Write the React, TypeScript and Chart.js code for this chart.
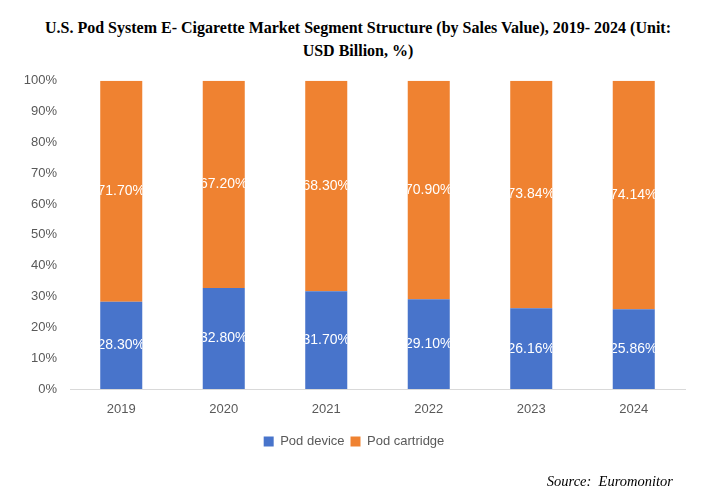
import React, { useEffect, useRef } from 'react';
import { Chart, registerables } from 'chart.js';

Chart.register(...registerables);

const years = ['2019', '2020', '2021', '2022', '2023', '2024'];
const podDevice = [28.3, 32.8, 31.7, 29.1, 26.16, 25.86];
const podCartridge = [71.7, 67.2, 68.3, 70.9, 73.84, 74.14];
const yTicks = [0, 10, 20, 30, 40, 50, 60, 70, 80, 90, 100];

const blue = '#4874CB';
const orange = '#EF8231';
const sans = '"Liberation Sans", Arial, sans-serif';
const serif = '"Liberation Serif", "Times New Roman", serif';

// white value labels, clipped to their own bar like the source image
const barLabels = {
  id: 'barLabels',
  afterDatasetsDraw(chart: any) {
    const ctx = chart.ctx;
    chart.data.datasets.forEach((ds: any, di: number) => {
      const meta = chart.getDatasetMeta(di);
      meta.data.forEach((bar: any, i: number) => {
        const { x, y, base, width } = bar.getProps(['x', 'y', 'base', 'width'], true);
        const top = Math.min(y, base);
        const h = Math.abs(base - y);
        ctx.save();
        ctx.beginPath();
        ctx.rect(x - width / 2, top, width, h);
        ctx.clip();
        ctx.fillStyle = '#FFFFFF';
        ctx.font = `14px ${sans}`;
        ctx.textAlign = 'center';
        ctx.textBaseline = 'middle';
        ctx.fillText(ds.data[i].toFixed(2) + '%', x, top + h / 2);
        ctx.restore();
      });
    });
  },
};

const App = () => {
  const chartRef = useRef<HTMLCanvasElement>(null);
  const chartInstance = useRef<Chart | null>(null);

  useEffect(() => {
    document.body.style.margin = '0';
    if (!chartRef.current) return;
    const ctx = chartRef.current.getContext('2d');
    if (!ctx) return;

    if (chartInstance.current) {
      chartInstance.current.destroy();
    }

    chartInstance.current = new Chart(ctx, {
      type: 'bar',
      data: {
        labels: years,
        datasets: [
          {
            label: 'Pod device',
            data: podDevice,
            backgroundColor: blue,
            borderWidth: 0,
            categoryPercentage: 1,
            barPercentage: 0.41,
          },
          {
            label: 'Pod cartridge',
            data: podCartridge,
            backgroundColor: orange,
            borderWidth: 0,
            categoryPercentage: 1,
            barPercentage: 0.41,
          },
        ],
      },
      options: {
        animation: false,
        responsive: false,
        maintainAspectRatio: false,
        layout: { padding: { top: 12, left: 23, right: 23, bottom: 21 } },
        plugins: {
          legend: {
            position: 'bottom',
            labels: {
              boxWidth: 10,
              boxHeight: 10,
              padding: 6,
              color: '#595959',
              font: { size: 13, family: sans },
            },
          },
          tooltip: { enabled: false },
        },
        scales: {
          x: {
            stacked: true,
            grid: { display: false, drawTicks: false },
            border: { display: true, color: '#D9D9D9', width: 1 },
            ticks: { color: '#595959', padding: 13, font: { size: 13, family: sans } },
            afterFit: (scale: any) => {
              scale.height = 40;
            },
          },
          y: {
            stacked: true,
            min: 0,
            max: 100,
            grid: { display: false, drawTicks: false },
            border: { display: false },
            afterBuildTicks: (scale: any) => {
              scale.ticks = yTicks.map((v) => ({ value: v }));
            },
            ticks: {
              color: '#595959',
              padding: 13,
              font: { size: 13, family: sans },
              callback: (v: any) => v + '%',
            },
            afterFit: (scale: any) => {
              scale.width = 47;
            },
          },
        },
      },
      plugins: [barLabels],
    });

    return () => {
      if (chartInstance.current) {
        chartInstance.current.destroy();
        chartInstance.current = null;
      }
    };
  }, []);

  return (
    <div style={{ position: 'relative', width: 708, height: 496, background: '#fff', overflow: 'hidden' }}>
      <div
        style={{
          position: 'absolute',
          top: 16,
          left: 0,
          width: 716,
          textAlign: 'center',
          fontFamily: serif,
          fontWeight: 'bold',
          fontSize: 16,
          lineHeight: '23px',
          color: '#000',
          whiteSpace: 'nowrap',
        }}
      >
        U.S. Pod System E- Cigarette Market Segment Structure (by Sales Value), 2019- 2024 (Unit:
        <br />
        USD Billion, %)
      </div>
      <canvas
        ref={chartRef}
        width={708}
        height={419}
        style={{ position: 'absolute', top: 60, left: 0, width: 708, height: 419 }}
      />
      <div
        style={{
          position: 'absolute',
          top: 473,
          right: 35,
          fontFamily: serif,
          fontStyle: 'italic',
          fontSize: 14.5,
          color: '#000',
          whiteSpace: 'pre',
        }}
      >
        {'Source:  Euromonitor'}
      </div>
    </div>
  );
};

export default App;
